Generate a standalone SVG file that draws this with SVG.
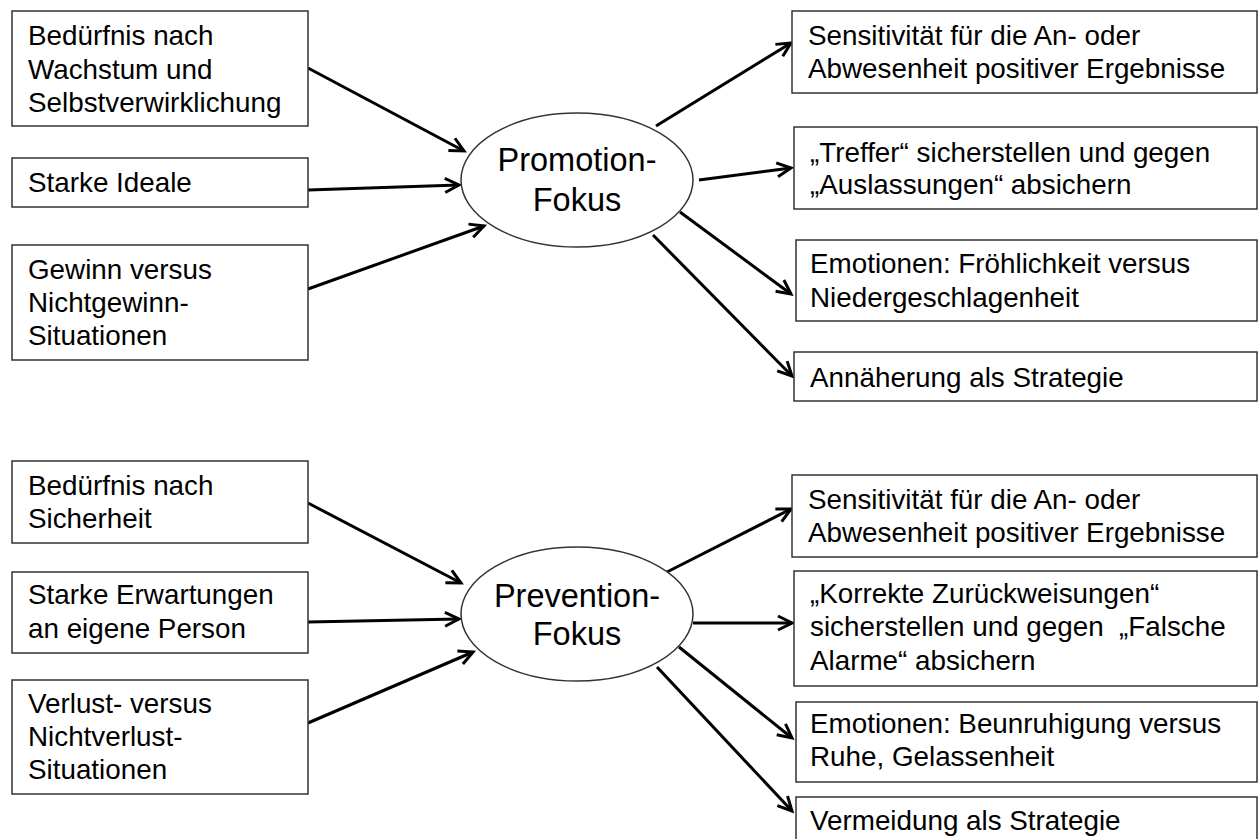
<svg xmlns="http://www.w3.org/2000/svg" width="1258" height="839" viewBox="0 0 1258 839">
<style>
.box{fill:#fff;stroke:#333;stroke-width:1.5}
.ell{fill:#fff;stroke:#333;stroke-width:1.5}
.t{font-family:"Liberation Sans",Arial,sans-serif;font-size:27.8px;fill:#000}
.c{font-family:"Liberation Sans",Arial,sans-serif;font-size:32.5px;fill:#000;text-anchor:middle}
.con line{stroke:#000;stroke-width:3;marker-end:url(#arr)}
</style>
<defs>
<marker id="arr" markerUnits="userSpaceOnUse" markerWidth="22" markerHeight="22" viewBox="0 0 22 22" refX="19" refY="11" orient="auto">
<path d="M5,4 L19,11 L5,18" fill="none" stroke="#000" stroke-width="3"/>
</marker>
</defs>
<rect width="1258" height="839" fill="#fff"/>
<g id="connectors" class="con">
<line x1="308" y1="68" x2="464" y2="151"/>
<line x1="308" y1="190" x2="459" y2="185"/>
<line x1="308" y1="289" x2="484" y2="226"/>
<line x1="656" y1="126" x2="791" y2="43"/>
<line x1="699" y1="180" x2="791" y2="168"/>
<line x1="680" y1="212" x2="791" y2="294"/>
<line x1="653" y1="235" x2="792" y2="376"/>
<line x1="308" y1="503" x2="461" y2="583"/>
<line x1="308" y1="622" x2="459" y2="619"/>
<line x1="308" y1="723" x2="473" y2="652"/>
<line x1="667" y1="572" x2="791" y2="509"/>
<line x1="693" y1="623" x2="792" y2="623"/>
<line x1="679" y1="647" x2="792" y2="738"/>
<line x1="657" y1="667" x2="792" y2="811"/>
</g>
<g id="n-wachstum"><rect class="box" x="12" y="11" width="296" height="115"/>
<text class="t" x="28" y="45">Bedürfnis nach</text><text class="t" x="28" y="79">Wachstum und</text><text class="t" x="28" y="112">Selbstverwirklichung</text></g>
<g id="n-ideale"><rect class="box" x="12" y="158" width="296" height="49"/>
<text class="t" x="28" y="192">Starke Ideale</text></g>
<g id="n-gewinn"><rect class="box" x="12" y="245" width="296" height="115"/>
<text class="t" x="28" y="279">Gewinn versus</text><text class="t" x="28" y="312">Nichtgewinn-</text><text class="t" x="28" y="345">Situationen</text></g>
<g id="n-promotion"><ellipse class="ell" cx="577" cy="180" rx="116" ry="67"/>
<text class="c" x="577" y="171">Promotion-</text><text class="c" x="577" y="211">Fokus</text></g>
<g id="n-p1"><rect class="box" x="792" y="11" width="465" height="82"/>
<text class="t" x="808" y="45">Sensitivität für die An- oder</text><text class="t" x="808" y="78">Abwesenheit positiver Ergebnisse</text></g>
<g id="n-p2"><rect class="box" x="794" y="127" width="463" height="82"/>
<text class="t" x="810" y="162">„Treffer“ sicherstellen und gegen</text><text class="t" x="810" y="194">„Auslassungen“ absichern</text></g>
<g id="n-p3"><rect class="box" x="796" y="240" width="461" height="81"/>
<text class="t" x="810" y="273">Emotionen: Fröhlichkeit versus</text><text class="t" x="810" y="307">Niedergeschlagenheit</text></g>
<g id="n-p4"><rect class="box" x="794" y="352" width="463" height="49"/>
<text class="t" x="810" y="387">Annäherung als Strategie</text></g>
<g id="n-sicherheit"><rect class="box" x="12" y="461" width="296" height="82"/>
<text class="t" x="28" y="495">Bedürfnis nach</text><text class="t" x="28" y="528">Sicherheit</text></g>
<g id="n-erwartungen"><rect class="box" x="12" y="572" width="296" height="81"/>
<text class="t" x="28" y="604">Starke Erwartungen</text><text class="t" x="28" y="638">an eigene Person</text></g>
<g id="n-verlust"><rect class="box" x="12" y="680" width="296" height="114"/>
<text class="t" x="28" y="713">Verlust- versus</text><text class="t" x="28" y="746">Nichtverlust-</text><text class="t" x="28" y="779">Situationen</text></g>
<g id="n-prevention"><ellipse class="ell" cx="577" cy="614" rx="116" ry="67"/>
<text class="c" x="577" y="607">Prevention-</text><text class="c" x="577" y="645">Fokus</text></g>
<g id="n-v1"><rect class="box" x="792" y="475" width="465" height="82"/>
<text class="t" x="808" y="509">Sensitivität für die An- oder</text><text class="t" x="808" y="542">Abwesenheit positiver Ergebnisse</text></g>
<g id="n-v2"><rect class="box" x="794" y="571" width="463" height="115"/>
<text class="t" x="810" y="603">„Korrekte Zurückweisungen“</text><text class="t" x="810" y="636" style="white-space:pre">sicherstellen und gegen  „Falsche</text><text class="t" x="810" y="670">Alarme“ absichern</text></g>
<g id="n-v3"><rect class="box" x="796" y="702" width="461" height="80"/>
<text class="t" x="810" y="733">Emotionen: Beunruhigung versus</text><text class="t" x="810" y="766">Ruhe, Gelassenheit</text></g>
<g id="n-v4"><rect class="box" x="796" y="797" width="461" height="50"/>
<text class="t" x="810" y="830">Vermeidung als Strategie</text></g>
</svg>
